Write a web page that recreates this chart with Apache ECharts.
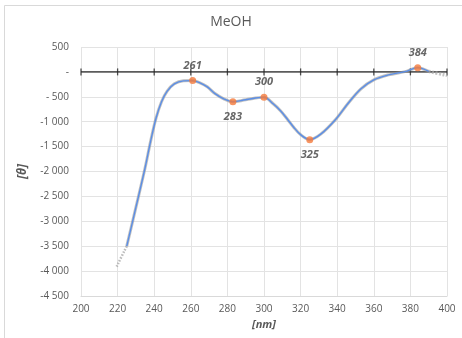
<!DOCTYPE html>
<html>
<head>
<meta charset="utf-8">
<script src="https://cdn.jsdelivr.net/npm/echarts@6/dist/echarts.min.js"></script>
<style>
  html, body { margin: 0; padding: 0; background: #ffffff; }
  #chart { width: 462px; height: 338px; }
</style>
</head>
<body>
<div id="chart"></div>
<script>
// CD spectrum in methanol: wavelength (nm) vs molar ellipticity [θ]
const wavelengthNm = [225, 230, 235, 238, 241, 244, 247, 251, 256, 261, 265, 269, 273, 278, 283, 290, 300, 305, 309, 313, 316, 320, 325, 331, 339, 346, 353, 360, 368, 377, 384, 390];
const thetaValues  = [-3500, -2720, -1930, -1400, -930, -600, -390, -240, -180, -175, -220, -300, -430, -540, -600, -560, -510, -640, -780, -960, -1100, -1260, -1360, -1250, -960, -630, -340, -160, -60, 5, 85, 10];

// faint dotted continuation at both ends of the trace
const lowTailNm = [219.5, 222, 225];
const lowTailTheta = [-3910, -3720, -3500];
const highTailNm = [390, 395, 400];
const highTailTheta = [10, -30, -70];

// labelled extrema
const peakNm = [261, 283, 300, 325, 384];
const peakTheta = [-175, -600, -510, -1360, 85];
const peakLabelSide = ['top', 'bottom', 'top', 'bottom', 'top'];

// tick positions on the zero baseline
const xTicks = [200, 220, 240, 260, 280, 300, 320, 340, 360, 380, 400];

const pair = (xs, ys) => xs.map((x, i) => [x, ys[i]]);

function fmtTheta(v) {
  if (v === 0) return '-';
  const a = Math.abs(v);
  let s = a >= 1000 ? Math.floor(a / 1000) + ' ' + String(a % 1000).padStart(3, '0') : String(a);
  if (v < 0) return a >= 1000 ? '-' + s : '- ' + s;
  return s;
}

const chart = echarts.init(document.getElementById('chart'), null, { renderer: 'canvas' });
const FONT = '"Open Sans", "Liberation Sans", sans-serif';

chart.setOption({
  animation: false,
  backgroundColor: '#ffffff',
  title: {
    text: 'MeOH',
    left: 'center',
    top: 10,
    textStyle: { fontFamily: FONT, fontSize: 14, fontWeight: 'normal', color: '#595959' }
  },
  graphic: [{
    type: 'rect',
    shape: { x: 4.5, y: 5.5, width: 520, height: 420 },
    style: { fill: 'none', stroke: '#d9d9d9', lineWidth: 1 },
    silent: true,
    z: -10
  }],
  grid: { left: 81, right: 15, top: 47, bottom: 42 },
  xAxis: {
    type: 'value',
    min: 200, max: 400, interval: 20,
    name: '[nm]',
    nameLocation: 'middle',
    nameGap: 18,
    nameTextStyle: { fontFamily: FONT, fontSize: 11, fontStyle: 'italic', fontWeight: 'bold', color: '#595959' },
    axisLine: { onZero: false, lineStyle: { color: '#d9d9d9' } },
    axisTick: { show: false },
    axisLabel: { fontFamily: FONT, fontSize: 10, color: '#595959', margin: 8 },
    splitLine: { show: true, lineStyle: { color: '#e3e3e3', width: 1 } }
  },
  yAxis: {
    type: 'value',
    min: -4500, max: 500, interval: 500,
    name: '[θ]',
    nameLocation: 'middle',
    nameGap: 52,
    nameRotate: 90,
    nameTextStyle: { fontFamily: FONT, fontSize: 12, fontStyle: 'italic', fontWeight: 'bold', color: '#595959' },
    axisLine: { show: false },
    axisTick: { show: false },
    axisLabel: { fontFamily: FONT, fontSize: 10, color: '#595959', margin: 12, formatter: fmtTheta },
    splitLine: { show: true, lineStyle: { color: '#e3e3e3', width: 1 } }
  },
  series: [
    {
      // black zero baseline with crossing ticks
      type: 'line',
      data: [[200, 0], [400, 0]],
      symbol: 'none',
      lineStyle: { color: '#262626', width: 1.3 },
      silent: true,
      z: 2
    },
    {
      type: 'scatter',
      data: xTicks.map(x => [x, 0]),
      symbol: 'rect',
      symbolSize: [1.3, 7],
      itemStyle: { color: '#262626' },
      silent: true,
      z: 2
    },
    {
      // gray halo under the trace
      type: 'line',
      data: pair(wavelengthNm, thetaValues),
      smooth: 0.35,
      symbol: 'none',
      lineStyle: { color: 'rgba(150,150,150,0.6)', width: 3 },
      silent: true,
      z: 3
    },
    {
      type: 'line',
      data: pair(lowTailNm, lowTailTheta),
      smooth: true,
      symbol: 'none',
      lineStyle: { color: 'rgba(160,160,160,0.7)', width: 2.5, type: [1.5, 1.5] },
      silent: true,
      z: 3
    },
    {
      type: 'line',
      data: pair(highTailNm, highTailTheta),
      smooth: true,
      symbol: 'none',
      lineStyle: { color: 'rgba(170,170,170,0.7)', width: 3.5, type: [2, 1.5] },
      silent: true,
      z: 3
    },
    {
      // spectrum trace
      type: 'line',
      data: pair(wavelengthNm, thetaValues),
      smooth: 0.35,
      symbol: 'none',
      lineStyle: { color: '#5b8ee6', width: 1.4 },
      z: 4
    },
    {
      type: 'scatter',
      data: peakNm.map((x, i) => ({
        value: [x, peakTheta[i]],
        label: { position: peakLabelSide[i] }
      })),
      symbol: 'circle',
      symbolSize: 7,
      itemStyle: { color: '#f57a3c' },
      label: {
        show: true,
        distance: 6,
        formatter: p => String(p.value[0]),
        fontFamily: FONT,
        fontSize: 11,
        fontStyle: 'italic',
        fontWeight: 'bold',
        color: '#404040'
      },
      z: 5
    }
  ]
});
</script>
</body>
</html>
